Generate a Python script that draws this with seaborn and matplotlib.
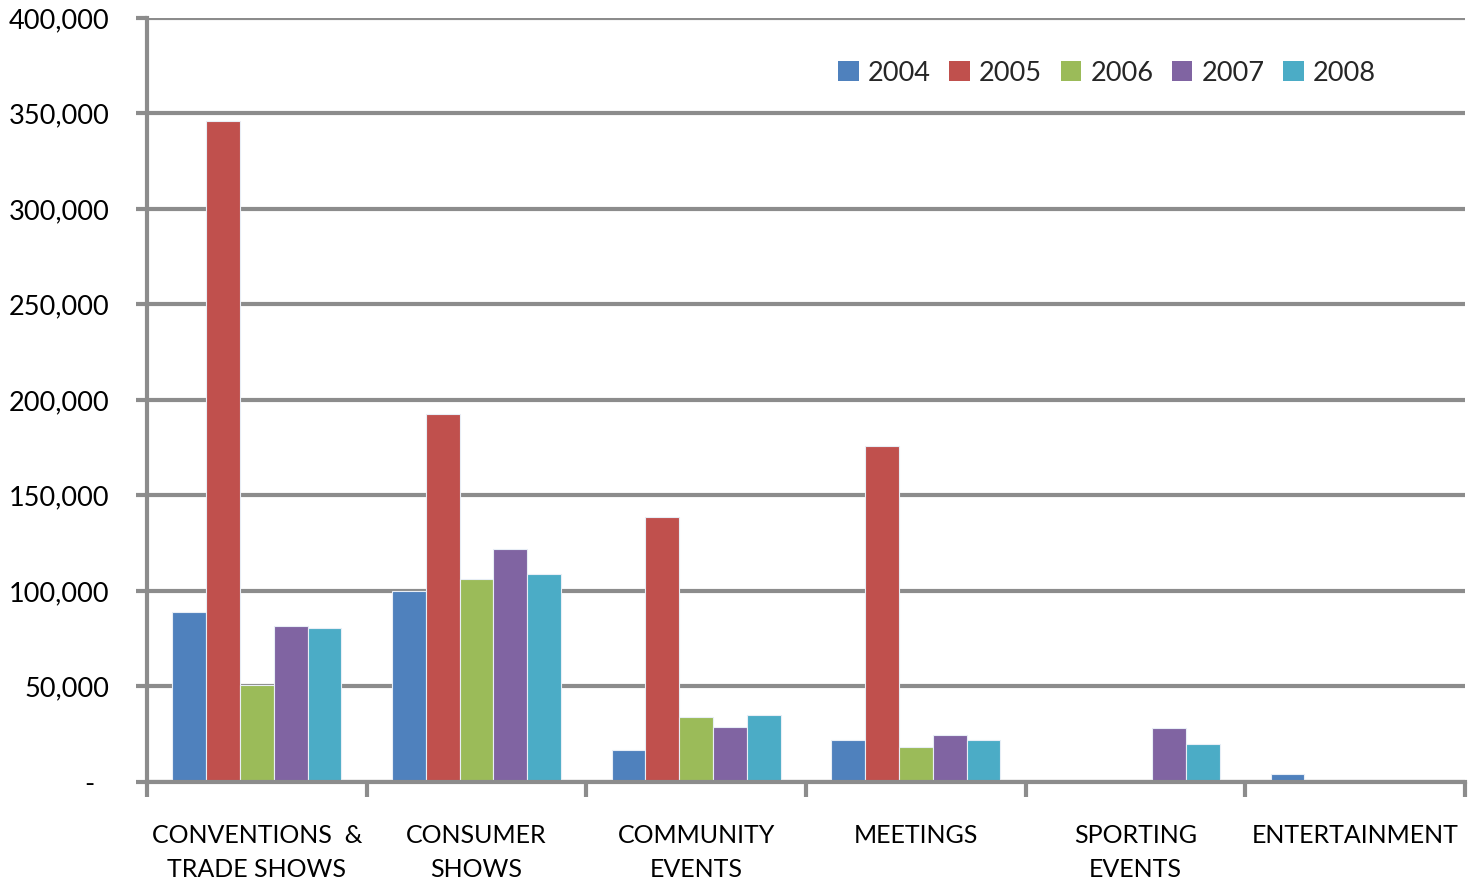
import matplotlib
matplotlib.use("Agg")
import matplotlib.pyplot as plt
import seaborn as sns
import pandas as pd
from matplotlib.ticker import FuncFormatter, FixedLocator

categories = ["CONVENTIONS  &\nTRADE SHOWS", "CONSUMER\nSHOWS", "COMMUNITY\nEVENTS",
              "MEETINGS", "SPORTING\nEVENTS", "ENTERTAINMENT"]
years = ["2004", "2005", "2006", "2007", "2008"]

values_2004 = [89000, 100000, 17000, 22000, 0, 4000]
values_2005 = [346000, 192500, 138500, 176000, 0, 0]
values_2006 = [51000, 106500, 34000, 18500, 0, 800]
values_2007 = [81500, 122000, 29000, 24500, 28000, 0]
values_2008 = [80500, 109000, 35000, 22000, 20000, 0]

series = [values_2004, values_2005, values_2006, values_2007, values_2008]
colors = ["#4F81BD", "#C0504D", "#9BBB59", "#8064A2", "#4BACC6"]

rows = []
for yr, vals in zip(years, series):
    for cat, v in zip(categories, vals):
        rows.append({"category": cat, "year": yr, "visitors": v})
df = pd.DataFrame(rows)

sns.set_style("white")
plt.rcParams["font.family"] = ["Lato", "DejaVu Sans"]

fig = plt.figure(figsize=(14.79, 8.81), dpi=100)
ax = fig.add_axes([0.0994, 0.1124, 0.8911, 0.8672])

sns.barplot(data=df, x="category", y="visitors", hue="year", order=categories,
            hue_order=years, palette=colors, width=0.77, saturation=1,
            edgecolor="#e8eef6", linewidth=0.8, ax=ax, legend=True)

grid_color = "#8c8c8c"
ax.set_ylim(0, 400000)
ax.set_xlim(-0.5, len(categories) - 0.5)
ax.set_yticks(range(0, 400001, 50000))
ax.yaxis.set_major_formatter(FuncFormatter(lambda v, p: "-  " if v == 0 else f"{int(v):,}"))
ax.yaxis.grid(True, color=grid_color, linewidth=3.0)
ax.set_axisbelow(True)

for side in ["top", "right"]:
    ax.spines[side].set_visible(False)
for side in ["left", "bottom"]:
    ax.spines[side].set_color(grid_color)
    ax.spines[side].set_linewidth(3.0)

ax.tick_params(axis="y", which="major", left=True, length=8, width=3, color=grid_color,
               labelsize=19.5, pad=19, labelcolor="black")
ax.tick_params(axis="x", which="major", bottom=True, length=0, labelsize=18, pad=30,
               labelcolor="black")
ax.xaxis.set_minor_locator(FixedLocator([i - 0.5 for i in range(len(categories) + 1)]))
ax.tick_params(axis="x", which="minor", bottom=True, length=11, width=3, color=grid_color)
for lbl in ax.get_xticklabels():
    lbl.set_linespacing(1.6)

ax.set_xlabel("")
ax.set_ylabel("")

leg = ax.legend(loc="upper right", bbox_to_anchor=(0.9325, 0.944), ncol=5, frameon=False,
                fontsize=19.5, handlelength=0.75, handleheight=0.75, handletextpad=0.35,
                columnspacing=0.68, borderaxespad=0, borderpad=0)
for h in leg.legend_handles:
    h.set_edgecolor("none")

fig.savefig("out.png", dpi=100)
